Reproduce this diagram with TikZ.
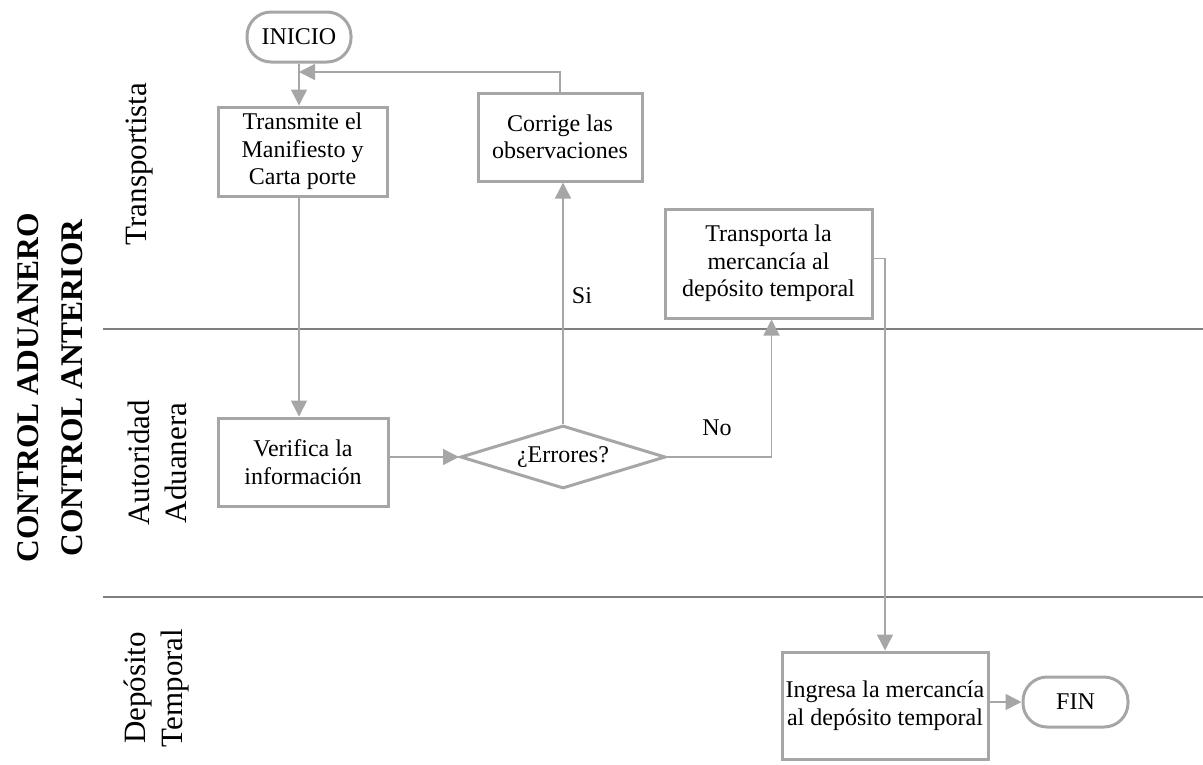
\documentclass[tikz,border=0pt]{standalone}
\usepackage{fontspec}
\setmainfont{Liberation Serif}
\usetikzlibrary{arrows.meta,shapes.geometric}
\definecolor{boxgray}{HTML}{A6A6A6}
\definecolor{lanegray}{HTML}{7F7F7F}
\tikzset{
  stepbox/.style={draw=boxgray, line width=3pt, fill=white, align=center, inner sep=0pt,
    font=\fontsize{24}{27.5}\selectfont},
  term/.style={stepbox, rounded corners=24pt},
  decision/.style={draw=boxgray, line width=3pt, fill=white, diamond, aspect=3.25, inner sep=0pt,
    font=\fontsize{24}{28}\selectfont},
  conn/.style={draw=boxgray, line width=1.5pt, -{Triangle[length=16pt,width=16pt]}},
  lane/.style={draw=lanegray, line width=1.8pt},
  lanelabel/.style={rotate=90, align=center, font=\fontsize{31}{37}\selectfont},
  title/.style={rotate=90, align=center, font=\fontsize{31.5}{44}\selectfont\bfseries},
  lbl/.style={font=\fontsize{24}{28}\selectfont},
}
\begin{document}
\begin{tikzpicture}[x=1pt,y=-1pt]
\useasboundingbox (0,0) rectangle (1203,764);
% lanes
\coordinate (l1a) at (103,329); \coordinate (l1b) at (1203,329);
\coordinate (l2a) at (103,597); \coordinate (l2b) at (1203,597);
\draw[lane] (l1a) -- (l1b);
\draw[lane] (l2a) -- (l2b);
\node[title] (ttl) at (50,388) {CONTROL ADUANERO\\CONTROL ANTERIOR};
\node[lanelabel] (ln1) at (140,164) {Transportista};
\node[lanelabel] (ln2) at (157,463) {Autoridad\\Aduanera};
\node[lanelabel] (ln3) at (157,688) {Depósito\\Temporal};
% nodes
\node[term, minimum width=104pt, minimum height=50pt] (ini) at (299,37) {INICIO};
\node[stepbox, minimum width=169pt, minimum height=89pt] (trans) at (302.5,151.5) {Transmite el\\Manifiesto y\\Carta porte};
\node[stepbox, minimum width=164pt, minimum height=88pt] (corr) at (560,137) {Corrige las\\observaciones};
\node[stepbox, minimum width=207pt, minimum height=109pt] (trp) at (768.5,263.5) {Transporta la\\mercancía al\\depósito temporal};
\node[stepbox, minimum width=170pt, minimum height=88pt] (ver) at (303,462) {Verifica la\\información};
\node[decision, minimum width=205pt, minimum height=63pt] (dia) at (563,457) {¿Errores?};
\node[stepbox, minimum width=206pt, minimum height=107pt] (ing) at (885,705.5) {Ingresa la mercancía\\al depósito temporal};
\node[term, minimum width=105pt, minimum height=50pt] (fin) at (1075.5,702) {FIN};
\coordinate (j) at (299,72);
% connectors
\draw[conn] (ini.south) -- (ini.south |- trans.north);
\draw[conn] (corr.north) |- (j);
\draw[conn] (ini.south |- trans.south) -- (ini.south |- ver.north);
\draw[conn] (ver.east |- dia.west) -- (dia.west);
\draw[conn] (dia.north) -- (dia.north |- corr.south);
\draw[conn] (dia.east) -| ([xshift=3pt]trp.south);
\draw[conn] ([yshift=5pt]trp.east) -| (ing.north);
\draw[conn] (ing.east |- fin.west) -- (fin.west);
\node[lbl] (si) at (582,296) {Si};
\node[lbl] (no) at (717,428) {No};
\end{tikzpicture}
\end{document}
